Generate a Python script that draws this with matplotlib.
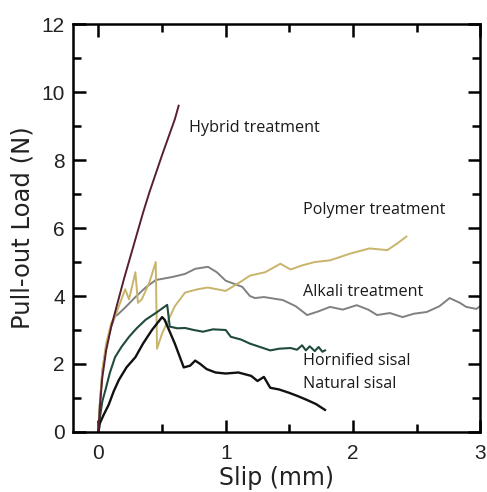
import matplotlib
matplotlib.use("Agg")
import matplotlib.pyplot as plt
from matplotlib.ticker import MultipleLocator

# ---- data ----
hybrid_x = [0, 0.01, 0.03, 0.06, 0.10, 0.15, 0.20, 0.25, 0.30, 0.35, 0.40, 0.50, 0.60, 0.63]
hybrid_y = [0, 0.7, 1.6, 2.4, 3.1, 3.8, 4.5, 5.15, 5.8, 6.45, 7.05, 8.15, 9.2, 9.6]

polymer_x = [0, 0.01, 0.03, 0.06, 0.10, 0.13, 0.18, 0.21, 0.24, 0.29, 0.31, 0.34, 0.40, 0.45, 0.46,
             0.50, 0.55, 0.60, 0.68, 0.78, 0.86, 1.00, 1.13, 1.19, 1.31, 1.43, 1.51, 1.60, 1.70,
             1.82, 1.98, 2.13, 2.27, 2.35, 2.42]
polymer_y = [0, 0.8, 1.8, 2.6, 3.2, 3.4, 3.9, 4.2, 3.9, 4.7, 3.8, 3.9, 4.4, 5.0, 2.45,
             2.9, 3.3, 3.7, 4.1, 4.2, 4.25, 4.15, 4.45, 4.6, 4.7, 4.95, 4.78, 4.9, 5.0,
             5.05, 5.25, 5.4, 5.35, 5.55, 5.75]

alkali_x = [0, 0.01, 0.03, 0.06, 0.10, 0.13, 0.15, 0.22, 0.29, 0.37, 0.45, 0.58, 0.68, 0.76, 0.86,
            0.93, 1.00, 1.13, 1.19, 1.23, 1.30, 1.45, 1.55, 1.64, 1.73, 1.82, 1.92, 2.03, 2.12,
            2.19, 2.29, 2.39, 2.48, 2.58, 2.68, 2.76, 2.84, 2.89, 2.97, 3.0]
alkali_y = [0, 0.8, 1.8, 2.5, 3.1, 3.4, 3.45, 3.7, 3.97, 4.25, 4.47, 4.56, 4.65, 4.8, 4.86,
            4.7, 4.45, 4.27, 4.0, 3.94, 3.97, 3.88, 3.7, 3.44, 3.55, 3.68, 3.6, 3.73, 3.6,
            3.44, 3.5, 3.38, 3.48, 3.53, 3.7, 3.94, 3.8, 3.68, 3.62, 3.7]

hornified_x = [0, 0.01, 0.03, 0.055, 0.09, 0.13, 0.18, 0.24, 0.30, 0.37, 0.45, 0.54, 0.56,
               0.62, 0.68, 0.75, 0.82, 0.90, 1.00, 1.04, 1.12, 1.19, 1.27, 1.35, 1.42, 1.51,
               1.56, 1.60, 1.63, 1.66, 1.70, 1.73, 1.76, 1.78]
hornified_y = [0, 0.4, 0.9, 1.24, 1.75, 2.2, 2.5, 2.8, 3.05, 3.3, 3.5, 3.74, 3.1,
               3.05, 3.06, 3.0, 2.95, 3.02, 3.0, 2.8, 2.72, 2.6, 2.5, 2.4, 2.45, 2.47,
               2.42, 2.55, 2.4, 2.52, 2.38, 2.5, 2.36, 2.4]

natural_x = [0, 0.01, 0.04, 0.08, 0.12, 0.16, 0.22, 0.29, 0.35, 0.42, 0.50, 0.52, 0.60, 0.67,
             0.72, 0.76, 0.80, 0.85, 0.92, 1.00, 1.10, 1.20, 1.25, 1.30, 1.35, 1.42, 1.50,
             1.57, 1.64, 1.71, 1.78]
natural_y = [0, 0.25, 0.5, 0.8, 1.2, 1.53, 1.9, 2.2, 2.6, 3.0, 3.38, 3.3, 2.6, 1.9,
             1.95, 2.1, 2.0, 1.85, 1.75, 1.72, 1.75, 1.65, 1.5, 1.62, 1.3, 1.25, 1.15,
             1.05, 0.94, 0.82, 0.65]

x_ticks = [0, 1, 2, 3]
y_ticks = [0, 2, 4, 6, 8, 10, 12]

labels = ["Hybrid treatment", "Polymer treatment", "Alkali treatment", "Hornified sisal", "Natural sisal"]
label_pos = [(0.71, 8.94), (1.61, 6.53), (1.61, 4.12), (1.61, 2.09), (1.61, 1.41)]

# ---- figure ----
fig = plt.figure(figsize=(4.87, 4.92), dpi=100)
ax = fig.add_axes([0.150, 0.122, 0.836, 0.829])

ax.plot(alkali_x, alkali_y, color="#808080", lw=1.4)
ax.plot(polymer_x, polymer_y, color="#c8b46a", lw=1.4)
ax.plot(hornified_x, hornified_y, color="#1f4a3c", lw=1.5)
ax.plot(natural_x, natural_y, color="#111111", lw=1.7)
ax.plot(hybrid_x, hybrid_y, color="#5a1f2c", lw=1.4)

for txt, (x, y) in zip(labels, label_pos):
    ax.text(x, y, txt, fontsize=11.6, family="Open Sans", va="center", ha="left", color="#1a1a1a")

ax.set_xlim(-0.2, 3)
ax.set_ylim(0, 12)
ax.set_xticks(x_ticks)
ax.set_yticks(y_ticks)
ax.xaxis.set_minor_locator(MultipleLocator(0.5))
ax.yaxis.set_minor_locator(MultipleLocator(1))
ax.tick_params(which="both", direction="in", top=True, right=True, width=1.8,
               labelsize=15, pad=6)
ax.tick_params(axis="x", which="major", pad=9)
ax.tick_params(which="major", length=9)
ax.tick_params(which="minor", length=6)
for lab in ax.get_xticklabels() + ax.get_yticklabels():
    lab.set_family("Liberation Sans")
    lab.set_color("#222222")
for s in ax.spines.values():
    s.set_linewidth(1.8)

ax.set_xlabel("Slip (mm)", fontsize=17, family="DejaVu Sans", labelpad=2, color="#222222")
ax.set_ylabel("Pull-out Load (N)", fontsize=17.5, family="DejaVu Sans", labelpad=5, color="#222222")

fig.savefig("out.png", dpi=100)
